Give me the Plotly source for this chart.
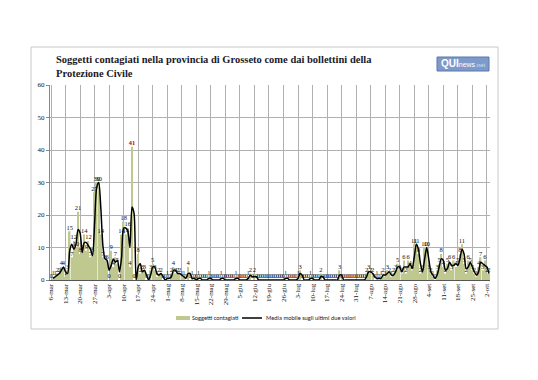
import pandas as pd
import plotly.graph_objects as go

# ---- data ----
start_date = "2020-03-06"
cases = [
    0, 1, 1, 2, 2, 4, 4, 1, 3, 15,
    7, 12, 10, 21, 8, 9, 14, 9, 12, 7,
    8, 27, 30, 30, 14, 7, 6, 6, 0, 9,
    4, 7, 5, 0, 14, 18, 14, 16, 4, 41,
    0, 0, 8, 2, 3, 3, 0, 0, 3, 5,
    3, 1, 2, 2, 0, 0, 1, 0, 2, 4,
    2, 2, 2, 1, 1, 0, 4, 0, 1, 0,
    0, 1, 0, 0, 0, 0, 1, 0, 0, 0,
    0, 0, 1, 0, 0, 0, 0, 0, 0, 1,
    0, 0, 0, 0, 0, 1, 2, 0, 2, 0,
    0, 0, 0, 0, 0, 0, 0, 0, 0, 0,
    0, 0, 0, 1, 0, 0, 0, 0, 0, 1,
    3, 0, 0, 0, 0, 1, 0, 0, 0, 0,
    2, 0, 0, 0, 0, 0, 0, 0, 0, 3,
    0, 0, 0, 0, 0, 0, 0, 0, 0, 0,
    0, 0, 2, 3, 2, 2, 0, 1, 0, 1,
    2, 1, 3, 2, 1, 2, 3, 5, 3, 2,
    6, 2, 6, 4, 3, 11, 11, 8, 2, 3,
    10, 10, 3, 2, 1, 0, 3, 5, 8, 4,
    2, 5, 6, 3, 6, 4, 5, 8, 11, 5,
    2, 6, 5, 3, 2, 1, 4, 7, 3, 6,
    2, 2,
]
tick_labels = [
    "6-mar", "13-mar", "20-mar", "27-mar", "3-apr", "10-apr", "17-apr", "24-apr",
    "1-mag", "8-mag", "15-mag", "22-mag", "29-mag", "5-giu", "12-giu", "19-giu",
    "26-giu", "3-lug", "10-lug", "17-lug", "24-lug", "31-lug", "7-ago", "14-ago",
    "21-ago", "28-ago", "4-set", "11-set", "18-set", "25-set", "2-ott",
]
y_ticks = [0, 10, 20, 30, 40, 50, 60]
title_text = ("Soggetti contagiati nella provincia di Grosseto come dai bollettini della"
              "<br>Protezione Civile")
bar_name = "Soggetti contagiati"
line_name = "Media mobile sugli ultimi due valori"

dates = pd.date_range(start_date, periods=len(cases), freq="D")
tick_dates = pd.date_range(start_date, periods=len(tick_labels), freq="7D")
moving_avg = [None] + [(cases[i] + cases[i - 1]) / 2 for i in range(1, len(cases))]

SERIF = "Times New Roman, Liberation Serif, serif"
SANS = "Calibri, Carlito, Liberation Sans, Arial, sans-serif"

# page offset caused by the default 8px body margin of the html page
OFF = 8
PAGE_W, PAGE_H = 538, 380
W, H = PAGE_W - OFF, PAGE_H - OFF
# plot area in page pixels
PL, PR, PT, PB = 50, 490, 85, 280
L, R, T, B = PL - OFF, W - (PR - OFF), PT - OFF, H - (PB - OFF)
pw, ph = W - L - R, H - T - B

def px_x(x):
    return (x - OFF - L) / pw

def px_y(y):
    return (H - B - (y - OFF)) / ph

peak = max(cases)
norm_x = [d for d, v in zip(dates, cases) if v != peak]
norm_y = [v for v in cases if v != peak]
peak_x = [d for d, v in zip(dates, cases) if v == peak]
peak_y = [v for v in cases if v == peak]

fig = go.Figure()
fig.add_trace(go.Bar(
    x=dates, y=cases, name=bar_name,
    marker=dict(color="#bfc98f", line=dict(width=0)),
    hoverinfo="x+y", showlegend=False,
))
fig.add_trace(go.Scatter(
    x=dates, y=moving_avg, name=line_name, mode="lines",
    line=dict(color="black", width=1.5, shape="spline", smoothing=0.7),
    showlegend=False,
))
fig.add_trace(go.Scatter(
    x=norm_x, y=norm_y, mode="text", text=[str(v) for v in norm_y],
    textposition="top center",
    textfont=dict(family=SERIF, size=6.5, color="#111111"),
    showlegend=False, hoverinfo="skip", cliponaxis=False,
))
fig.add_trace(go.Scatter(
    x=peak_x, y=peak_y, mode="text", text=["<b>%d</b>" % v for v in peak_y],
    textposition="top center",
    textfont=dict(family=SERIF, size=6.5, color="#c00000"),
    showlegend=False, hoverinfo="skip", cliponaxis=False,
))

shapes = [
    dict(type="rect", xref="paper", yref="paper",
         x0=px_x(31), x1=px_x(498), y0=px_y(329), y1=px_y(47),
         line=dict(color="#c8c8c8", width=1), fillcolor="rgba(0,0,0,0)", layer="below"),
    dict(type="rect", xref="paper", yref="paper",
         x0=px_x(437), x1=px_x(489), y0=px_y(71), y1=px_y(57),
         line=dict(color="#5a78a8", width=1), fillcolor="#7d9acb", layer="above"),
    # custom legend swatches
    dict(type="rect", xref="paper", yref="paper",
         x0=px_x(176), x1=px_x(190), y0=px_y(320), y1=px_y(316),
         line=dict(width=0), fillcolor="#bfc98f"),
    dict(type="line", xref="paper", yref="paper",
         x0=px_x(242), x1=px_x(262), y0=px_y(318), y1=px_y(318),
         line=dict(color="black", width=1.5)),
]
annotations = [
    dict(text="<b>" + title_text + "</b>", xref="paper", yref="paper",
         x=px_x(54), y=px_y(52), xanchor="left", yanchor="top", align="left",
         showarrow=False,
         font=dict(family=SERIF, size=10.5, color="#1a1a2a")),
    dict(text="<b>QUI</b><span style='font-size:7px'>news</span>"
              "<span style='font-size:6px;color:#d5e0f2'>.net</span>",
         xref="paper", yref="paper", x=px_x(463), y=px_y(64),
         xanchor="center", yanchor="middle", showarrow=False,
         font=dict(family="Liberation Sans", size=10, color="white")),
    dict(text=bar_name, xref="paper", yref="paper", x=px_x(190), y=px_y(318),
         xanchor="left", yanchor="middle", showarrow=False,
         font=dict(family=SANS, size=6.2, color="#222222")),
    dict(text=line_name, xref="paper", yref="paper", x=px_x(264), y=px_y(318),
         xanchor="left", yanchor="middle", showarrow=False,
         font=dict(family=SANS, size=6.2, color="#222222")),
]

fig.update_layout(
    width=W, height=H,
    margin=dict(l=L, r=R, t=T, b=B, autoexpand=False),
    paper_bgcolor="white", plot_bgcolor="white",
    bargap=0.3,
    showlegend=False,
    xaxis=dict(
        type="date", automargin=False,
        range=[dates[0] - pd.Timedelta(hours=12), dates[-1] + pd.Timedelta(hours=12)],
        tickvals=tick_dates, ticktext=tick_labels, tickangle=-90,
        tickfont=dict(family=SERIF, size=7, color="#111111"),
        showgrid=True, gridcolor="#b0b0b0", gridwidth=1,
        showline=True, linecolor="#555555", linewidth=1,
        ticks="", zeroline=False,
    ),
    yaxis=dict(
        range=[0, 60], tickvals=y_ticks, automargin=False,
        tickfont=dict(family=SERIF, size=7, color="#111111"),
        showgrid=True, gridcolor="#b0b0b0", gridwidth=1,
        showline=True, linecolor="#888888", linewidth=1,
        ticks="outside", ticklen=3, tickcolor="#888888",
        zeroline=False,
    ),
    shapes=shapes,
    annotations=annotations,
)

fig.write_html("out.html")
